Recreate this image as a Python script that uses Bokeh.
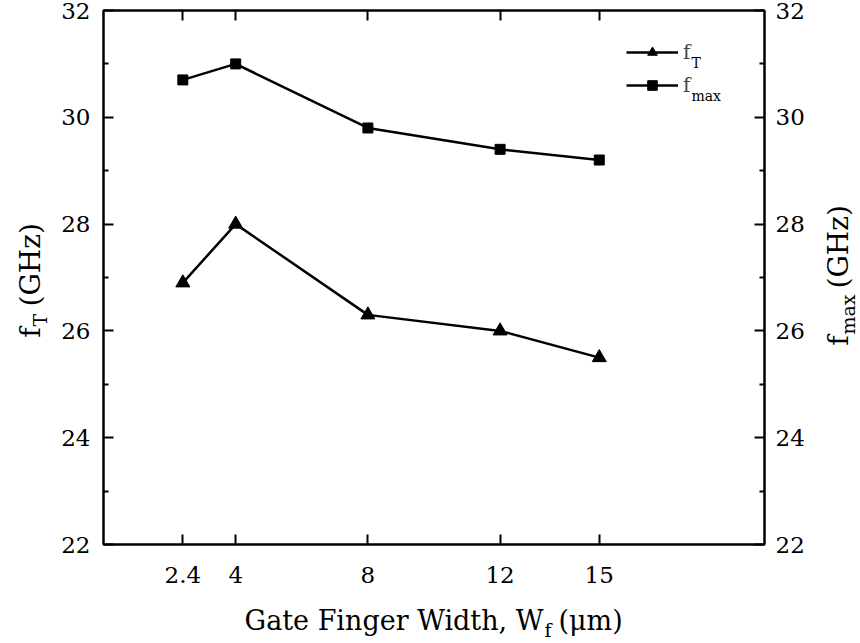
import math
from bokeh.plotting import figure
from bokeh.layouts import column, row
from bokeh.models import (LinearAxis, FixedTicker, Label, Legend, LegendItem, Range1d)
from bokeh.embed import file_html
from bokeh.resources import INLINE

# gate finger width (um) and measured cut-off frequencies (GHz)
width_um = [2.4, 4, 8, 12, 15]
f_t = [26.9, 28.0, 26.3, 26.0, 25.5]
f_max = [30.7, 31.0, 29.8, 29.4, 29.2]

x_ticks = [2.4, 4, 8, 12, 15]
y_major = [22, 24, 26, 28, 30, 32]
y_minor = [23, 25, 27, 29, 31]

FONT = "DejaVu Serif"
LEFT_W, MAIN_W, RIGHT_W = 55, 760, 45
MAIN_H, BOTTOM_H = 600, 43

p = figure(width=MAIN_W, height=MAIN_H, x_range=Range1d(0, 20), y_range=Range1d(22, 32),
           output_backend="svg", toolbar_location=None,
           x_axis_location=None, y_axis_location=None,
           min_border_left=48, min_border_right=51,
           min_border_top=10, min_border_bottom=56)
p.grid.visible = False
p.outline_line_color = "black"
p.outline_line_width = 2
p.background_fill_color = "white"
p.border_fill_color = "white"


def style_axis(ax, standoff=12):
    ax.axis_line_width = 2
    ax.axis_line_color = "black"
    ax.major_tick_in = 10
    ax.major_tick_out = 0
    ax.minor_tick_in = 5
    ax.minor_tick_out = 0
    ax.major_tick_line_width = 2
    ax.minor_tick_line_width = 2
    ax.major_label_text_font = FONT
    ax.major_label_text_color = "black"
    ax.major_label_text_font_size = "23px"
    ax.major_label_standoff = standoff


xt = FixedTicker(ticks=x_ticks, minor_ticks=[])
yt = FixedTicker(ticks=y_major, minor_ticks=y_minor)

bottom = LinearAxis(ticker=xt)
style_axis(bottom, standoff=22)
top = LinearAxis(ticker=xt)
style_axis(top, standoff=0)
top.major_label_overrides = {t: "" for t in x_ticks}
left = LinearAxis(ticker=yt)
style_axis(left, standoff=13)
right = LinearAxis(ticker=yt)
style_axis(right, standoff=11)

p.add_layout(bottom, "below")
p.add_layout(top, "above")
p.add_layout(left, "left")
p.add_layout(right, "right")

# series
lt = p.line(width_um, f_t, line_color="black", line_width=2.5)
st = p.scatter(width_um, f_t, marker="triangle", size=14, color="black")
lm = p.line(width_um, f_max, line_color="black", line_width=2.5)
sm = p.scatter(width_um, f_max, marker="square", size=10, color="black")

legend = Legend(items=[LegendItem(label="f", renderers=[lt, st]),
                       LegendItem(label="f", renderers=[lm, sm])],
                location=(523, 447), border_line_color=None,
                background_fill_alpha=0, padding=0, margin=0,
                glyph_width=52, glyph_height=24, label_height=24, spacing=9,
                label_text_font=FONT, label_text_font_size="20px",
                label_standoff=5)
p.add_layout(legend)


def strip(width, height):
    """A bare panel that only carries axis-title text."""
    f = figure(width=width, height=height, x_range=Range1d(0, 1), y_range=Range1d(0, 1),
               output_backend="svg", toolbar_location=None,
               x_axis_location=None, y_axis_location=None, min_border=0)
    f.grid.visible = False
    f.outline_line_color = None
    f.background_fill_color = "white"
    f.border_fill_color = "white"
    return f


def txt(fig, s, x, y, size, angle=0.0, align="left"):
    """Text placed at pixel (x, y) of the given panel, y counted from its top."""
    fig.add_layout(Label(x=x, y=y, x_units="canvas", y_units="canvas",
                         text=s, text_font=FONT, text_font_size=f"{size}px",
                         text_color="black", angle=angle, text_align=align,
                         text_baseline="alphabetic"))


rot = math.pi / 2

# left title: f_T (GHz), reading upward
lf = strip(LEFT_W, MAIN_H)
txt(lf, "f", 30, 327, 28, angle=rot, align="right")
txt(lf, "T", 39, 326, 19, angle=rot)
txt(lf, "(GHz)", 30, 306, 28, angle=rot)

# right title: f_max (GHz)
rf = strip(RIGHT_W, MAIN_H)
txt(rf, "f", 23, 335, 28, angle=rot, align="right")
txt(rf, "max", 32, 334, 19, angle=rot)
txt(rf, "(GHz)", 23, 288, 28, angle=rot)

# x-axis title: Gate Finger Width, W_f (um)
bf = strip(LEFT_W + MAIN_W + RIGHT_W, BOTTOM_H)
xa = 543
txt(bf, "Gate Finger Width, W", xa, 20, 27, align="right")
txt(bf, "f", xa + 1, 29, 19)
txt(bf, "(\u03bcm)", xa + 15, 20, 27)

# legend subscripts
txt(p, "T", 691 - LEFT_W, 62, 14)
txt(p, "max", 691 - LEFT_W, 95, 14)

layout = column(row(lf, p, rf, spacing=0), bf, spacing=0)
open("out.html", "w").write(file_html(layout, INLINE))
